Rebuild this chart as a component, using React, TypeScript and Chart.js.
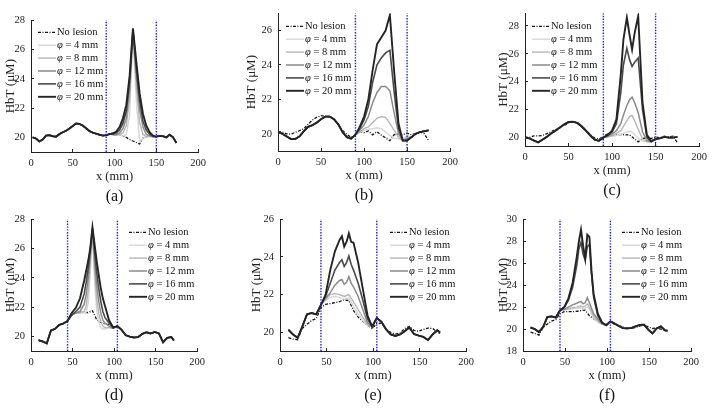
import React, { useEffect, useRef } from "react";
import { Chart, registerables } from "chart.js";

Chart.register(...registerables);

const FONT = "'Liberation Serif', 'Times New Roman', serif";

// ---------------- shared labels ----------------
const xTicks = [0, 50, 100, 150, 200];
const seriesLabels = ["No lesion", "φ = 4 mm", "φ = 8 mm", "φ = 12 mm", "φ = 16 mm", "φ = 20 mm"];
const yTitle = "HbT (μM)";
const xTitle = "x (mm)";

// ---------------- panel (a) ----------------
const aX = [2, 6, 10, 14, 18, 22, 26, 30, 34, 38, 42, 46, 50, 54, 58, 62, 66, 70, 74, 78, 82, 86,
  90, 94, 98, 102, 106, 110, 114, 118, 122, 126, 130, 134, 138, 142, 146, 150,
  154, 158, 162, 166, 170, 174];
const aNoLesion = [20.0, 19.92, 19.72, 19.85, 20.12, 20.15, 20.08, 20.05, 20.22, 20.35, 20.45, 20.6, 20.78, 20.95, 20.92, 20.8, 20.62, 20.43, 20.32, 20.25, 20.18, 20.12,
  20.15, 20.22, 20.2, 20.12, 20.18, 20.08, 20.0, 19.86, 19.75, 19.65, 19.55, 19.95, 20.04, 20.08, 20.05, 20.05,
  20.1, 20.08, 20.0, 20.18, 20.0, 19.62];
const aLeft = [20.0, 19.92, 19.72, 19.85, 20.12, 20.15, 20.08, 20.05, 20.22, 20.35, 20.45, 20.6, 20.78, 20.95, 20.92, 20.8, 20.62, 20.43, 20.32, 20.25, 20.18, 20.12];
const aRight = [20.1, 20.08, 20.0, 20.18, 20.0, 19.62];
const aIn4 = [20.15, 20.22, 20.2, 20.12, 20.18, 20.1, 20.2, 21.5, 27.2, 22.5, 19.7, 19.95, 20.04, 20.08, 20.05, 20.05];
const aIn8 = [20.15, 20.22, 20.2, 20.15, 20.2, 20.3, 20.8, 22.6, 27.3, 23.5, 21.0, 20.2, 20.05, 20.08, 20.05, 20.05];
const aIn12 = [20.15, 20.22, 20.2, 20.2, 20.3, 20.6, 21.3, 23.3, 27.35, 24.2, 21.9, 20.7, 20.2, 20.1, 20.05, 20.05];
const aIn16 = [20.15, 20.22, 20.24, 20.3, 20.5, 20.95, 21.8, 23.8, 27.4, 24.7, 22.5, 21.1, 20.5, 20.2, 20.08, 20.05];
const aIn20 = [20.15, 20.22, 20.28, 20.4, 20.7, 21.3, 22.2, 24.2, 27.45, 25.2, 23.0, 21.6, 20.8, 20.35, 20.12, 20.05];
const aPhi4 = [...aLeft, ...aIn4, ...aRight];
const aPhi8 = [...aLeft, ...aIn8, ...aRight];
const aPhi12 = [...aLeft, ...aIn12, ...aRight];
const aPhi16 = [...aLeft, ...aIn16, ...aRight];
const aPhi20 = [...aLeft, ...aIn20, ...aRight];
const aYTicks = [20, 22, 24, 26, 28];
const aMarks = [90, 150];

// ---------------- panel (b) ----------------
const bX = [0, 5, 10, 15, 20, 25, 30, 35, 40, 45, 50, 55, 60, 65, 70, 75, 80, 85,
  90, 95, 100, 105, 110, 115, 120, 125, 130, 135, 140, 145, 150,
  155, 160, 165, 170, 175];
const bNoLesion = [20.13, 20.1, 20.0, 19.98, 20.08, 20.18, 20.3, 20.55, 20.8, 20.96, 21.05, 21.02, 21.0, 20.85, 20.55, 20.2, 19.95, 19.8,
  19.94, 20.13, 20.07, 20.17, 19.94, 20.12, 19.92, 19.76, 19.6, 19.95, 19.98, 19.95, 20.04,
  19.95, 20.02, 20.1, 20.0, 19.6];
const bLeft = [20.13, 20.0, 19.85, 19.7, 19.7, 19.85, 20.15, 20.4, 20.5, 20.65, 20.85, 21.0, 21.0, 20.85, 20.55, 20.1, 19.8, 19.72];
const bRight = [19.8, 20.0, 20.1, 20.15, 20.2];
const bIn4 = [19.95, 20.1, 20.2, 20.25, 20.3, 20.35, 20.3, 20.1, 19.9, 19.75, 19.7, 19.7, 19.9];
const bIn8 = [19.95, 20.1, 20.3, 20.4, 20.65, 20.9, 21.0, 20.95, 20.6, 20.2, 19.8, 19.6, 19.8];
const bIn12 = [19.95, 20.2, 20.5, 21.0, 21.8, 22.4, 22.75, 22.75, 22.5, 21.2, 20.0, 19.6, 19.7];
const bIn16 = [19.95, 20.3, 20.8, 21.6, 23.0, 24.0, 24.4, 24.7, 24.85, 22.4, 20.3, 19.6, 19.6];
const bIn20 = [19.95, 20.4, 21.0, 22.0, 23.7, 25.2, 25.6, 26.0, 26.9, 23.6, 20.6, 19.6, 19.6];
const bPhi4 = [...bLeft, ...bIn4, ...bRight];
const bPhi8 = [...bLeft, ...bIn8, ...bRight];
const bPhi12 = [...bLeft, ...bIn12, ...bRight];
const bPhi16 = [...bLeft, ...bIn16, ...bRight];
const bPhi20 = [...bLeft, ...bIn20, ...bRight];
const bYTicks = [20, 22, 24, 26];
const bMarks = [90, 150];

// ---------------- panel (c) ----------------
const cX = [0, 5, 10, 15, 20, 25, 30, 35, 40, 45, 50, 55, 60, 65, 70, 75, 80, 85,
  90, 95, 100, 105, 110, 115, 120, 125, 130, 135, 140, 145, 150,
  155, 160, 165, 170, 175];
const cNoLesion = [20.05, 20.0, 20.12, 20.12, 20.15, 20.28, 20.42, 20.57, 20.72, 20.87, 21.05, 21.12, 21.08, 20.88, 20.52, 20.23, 19.97, 19.88,
  20.1, 20.27, 20.15, 20.2, 20.22, 20.2, 20.2, 19.95, 19.7, 19.95, 19.98, 19.95, 20.05,
  20.0, 20.1, 20.05, 20.1, 19.65];
const cXL = [0, 5, 10, 15, 20, 25, 30, 35, 40, 45, 50, 55, 60, 65, 70, 75, 80, 85,
  90, 95, 100, 105, 110, 113, 117, 120, 123, 126, 130, 135, 140, 145, 150,
  155, 160, 165, 170, 175];
const cLeft = [20.0, 19.95, 19.8, 19.66, 19.85, 20.05, 20.3, 20.5, 20.72, 20.95, 21.12, 21.14, 21.05, 20.8, 20.5, 20.15, 19.85, 19.77];
const cRight = [19.95, 20.05, 20.0, 20.0, 20.05];
const cIn4 = [20.0, 20.05, 20.1, 20.15, 20.25, 20.3, 20.4, 20.45, 20.4, 20.2, 19.95, 19.75, 19.7, 19.7, 19.9];
const cIn8 = [20.0, 20.05, 20.15, 20.3, 20.5, 20.8, 21.2, 21.5, 21.6, 21.2, 20.6, 19.9, 19.7, 19.7, 19.9];
const cIn12 = [20.0, 20.1, 20.25, 20.5, 21.0, 21.6, 22.3, 22.7, 22.9, 22.5, 21.8, 20.4, 19.8, 19.7, 19.9];
const cIn16 = [20.0, 20.15, 20.4, 21.0, 23.2, 25.2, 26.4, 25.6, 25.1, 25.4, 25.7, 22.0, 20.0, 19.7, 19.9];
const cIn20 = [20.0, 20.2, 20.5, 21.3, 24.5, 27.0, 28.6, 27.4, 26.3, 27.5, 28.7, 22.5, 20.2, 19.75, 19.9];
const cPhi4 = [...cLeft, ...cIn4, ...cRight];
const cPhi8 = [...cLeft, ...cIn8, ...cRight];
const cPhi12 = [...cLeft, ...cIn12, ...cRight];
const cPhi16 = [...cLeft, ...cIn16, ...cRight];
const cPhi20 = [...cLeft, ...cIn20, ...cRight];
const cYTicks = [20, 22, 24, 26, 28];
const cMarks = [90, 150];

// ---------------- panel (d) ----------------
const dX = [9, 14, 19, 24, 29, 34, 39,
  44, 49, 54, 59, 64, 69, 74, 79, 84, 89, 94, 99, 104,
  109, 114, 119, 124, 129, 134, 139, 144, 149, 154, 159, 164, 169, 172];
const dNoLesion = [19.74, 19.65, 19.52, 20.4, 20.52, 20.78, 20.88,
  21.05, 21.45, 21.6, 21.62, 21.62, 21.63, 21.75, 21.15, 20.95, 20.85, 20.78, 20.6, 20.7,
  20.45, 20.08, 19.98, 19.92, 19.95, 20.17, 20.28, 20.2, 20.3, 20.2, 19.6, 19.9, 19.95, 19.72];
const dXL = [9, 14, 19, 24, 29, 34, 39,
  44, 49, 54, 59, 64, 66.5, 69, 71.5, 74, 76.5, 79, 81.5, 84, 86.5, 89, 94, 99, 104,
  109, 114, 119, 124, 129, 134, 139, 144, 149, 154, 159, 164, 169, 172];
const dLeft = [19.74, 19.65, 19.52, 20.4, 20.52, 20.78, 20.88];
const dRight = [20.45, 20.08, 19.98, 19.92, 19.95, 20.17, 20.28, 20.2, 20.3, 20.2, 19.6, 19.9, 19.95, 19.72];
const dIn4 = [21.05, 21.45, 21.6, 21.62, 21.62, 21.65, 22.3, 24.5, 27.2, 23.8, 21.8, 21.0, 20.6, 20.5, 20.5, 20.6, 20.55, 20.7];
const dIn8 = [21.05, 21.45, 21.6, 21.65, 21.7, 22.1, 23.2, 25.1, 27.3, 24.5, 22.6, 21.6, 21.0, 20.7, 20.6, 20.6, 20.55, 20.7];
const dIn12 = [21.05, 21.45, 21.62, 21.7, 22.2, 22.9, 24.0, 25.6, 27.35, 25.2, 23.5, 22.4, 21.6, 21.1, 20.9, 20.7, 20.55, 20.7];
const dIn16 = [21.05, 21.45, 21.7, 22.0, 22.9, 23.7, 24.7, 26.0, 27.4, 25.8, 24.4, 23.3, 22.4, 21.7, 21.3, 20.9, 20.6, 20.7];
const dIn20 = [21.05, 21.6, 21.95, 22.6, 23.8, 24.5, 25.2, 26.1, 27.45, 26.3, 25.2, 24.2, 23.3, 22.6, 22.1, 21.1, 20.6, 20.7];
const dPhi4 = [...dLeft, ...dIn4, ...dRight];
const dPhi8 = [...dLeft, ...dIn8, ...dRight];
const dPhi12 = [...dLeft, ...dIn12, ...dRight];
const dPhi16 = [...dLeft, ...dIn16, ...dRight];
const dPhi20 = [...dLeft, ...dIn20, ...dRight];
const dYTicks = [20, 22, 24, 26, 28];
const dMarks = [44, 104];

// ---------------- panel (e) ----------------
const eX = [9, 14, 19, 24, 29, 34, 39,
  44, 49, 54, 59, 64, 69, 74, 79, 84, 89, 94, 99, 104,
  109, 114, 119, 124, 129, 134, 139, 144, 149, 154, 159, 164, 169, 172];
const eNoLesion = [19.71, 19.63, 19.6, 20.2, 20.42, 20.62, 20.73,
  21.3, 21.48, 21.52, 21.57, 21.63, 21.72, 21.68, 21.15, 20.8, 20.58, 20.37, 20.2, 20.45,
  20.48, 20.15, 19.98, 19.9, 19.95, 20.2, 20.3, 20.1, 20.05, 20.15, 20.22, 20.2, 20.0, 19.93];
const eXL = [9, 14, 19, 24, 29, 34, 39,
  44, 49, 54, 59, 64, 66.5, 69, 71.5, 74, 76.5, 79, 84, 89, 94, 99, 104,
  109, 114, 119, 124, 129, 134, 139, 144, 149, 154, 159, 164, 169, 172];
const eLeft = [20.13, 19.88, 19.7, 20.3, 20.95, 21.02, 20.95];
const eRight = [20.55, 20.15, 19.88, 19.8, 19.88, 20.05, 20.25, 19.9, 19.82, 19.75, 19.58, 19.88, 20.1, 19.98];
const eIn4 = [21.45, 21.7, 21.85, 21.9, 21.85, 21.8, 21.75, 21.8, 21.8, 21.6, 21.35, 21.0, 20.6, 20.35, 20.3, 20.75];
const eIn8 = [21.45, 21.75, 22.0, 22.05, 22.0, 21.95, 21.9, 21.95, 22.0, 21.8, 21.6, 21.2, 20.8, 20.4, 20.3, 20.75];
const eIn12 = [21.45, 21.8, 22.1, 22.5, 22.75, 22.8, 22.55, 22.65, 22.95, 22.6, 22.4, 21.9, 21.2, 20.5, 20.3, 20.75];
const eIn16 = [21.45, 21.9, 22.6, 23.3, 23.7, 23.85, 23.5, 23.7, 24.05, 23.6, 23.3, 22.6, 21.7, 20.7, 20.3, 20.75];
const eIn20 = [21.45, 22.0, 23.3, 24.3, 24.9, 25.1, 24.55, 24.8, 25.25, 24.8, 24.75, 23.7, 22.3, 20.9, 20.3, 20.75];
const ePhi4 = [...eLeft, ...eIn4, ...eRight];
const ePhi8 = [...eLeft, ...eIn8, ...eRight];
const ePhi12 = [...eLeft, ...eIn12, ...eRight];
const ePhi16 = [...eLeft, ...eIn16, ...eRight];
const ePhi20 = [...eLeft, ...eIn20, ...eRight];
const eYTicks = [20, 22, 24, 26];
const eMarks = [44, 104];

// ---------------- panel (f) ----------------
const fX = [9, 14, 19, 24, 29, 34, 39,
  44, 49, 54, 59, 64, 69, 74, 79, 84, 89, 94, 99, 104,
  109, 114, 119, 124, 129, 134, 139, 144, 149, 154, 159, 164, 169, 172];
const fNoLesion = [19.71, 19.6, 19.45, 20.15, 20.45, 20.72, 20.86,
  21.4, 21.58, 21.58, 21.58, 21.62, 21.68, 21.72, 21.2, 20.95, 20.7, 20.52, 20.42, 20.6,
  20.45, 20.32, 20.18, 20.1, 20.08, 20.15, 20.28, 20.34, 20.2, 20.05, 20.1, 20.0, 19.88, 19.85];
const fXL = [9, 14, 19, 24, 29, 34, 39,
  44, 49, 54, 59, 64, 66.5, 69, 71.5, 74, 76.5, 79, 81.5, 84, 89, 94, 99, 104,
  109, 114, 119, 124, 129, 134, 139, 144, 149, 154, 159, 164, 169, 172];
const fLeft = [20.14, 20.0, 19.72, 20.2, 21.1, 21.15, 21.05];
const fRight = [20.5, 20.28, 20.08, 20.06, 20.1, 20.25, 20.38, 20.4, 19.95, 19.6, 20.05, 20.25, 19.88, 19.85];
const fIn4 = [21.7, 21.72, 21.8, 21.85, 21.88, 21.9, 21.92, 21.85, 21.9, 22.0, 21.8, 21.4, 21.0, 20.6, 20.4, 20.35, 20.7];
const fIn8 = [21.7, 21.75, 21.85, 21.95, 22.0, 22.05, 22.1, 22.0, 22.1, 22.3, 22.0, 21.6, 21.2, 20.75, 20.45, 20.35, 20.7];
const fIn12 = [21.7, 21.8, 22.0, 22.2, 22.35, 22.45, 22.5, 22.3, 22.4, 22.85, 22.4, 21.9, 21.4, 20.9, 20.5, 20.35, 20.7];
const fIn16 = [21.7, 21.95, 22.6, 23.8, 25.8, 27.3, 27.9, 26.8, 26.3, 27.5, 27.7, 25.0, 22.9, 21.2, 20.55, 20.35, 20.7];
const fIn20 = [21.7, 22.0, 22.8, 24.2, 26.6, 28.0, 29.05, 27.6, 26.4, 28.6, 28.4, 25.3, 23.2, 21.4, 20.6, 20.35, 20.7];
const fPhi4 = [...fLeft, ...fIn4, ...fRight];
const fPhi8 = [...fLeft, ...fIn8, ...fRight];
const fPhi12 = [...fLeft, ...fIn12, ...fRight];
const fPhi16 = [...fLeft, ...fIn16, ...fRight];
const fPhi20 = [...fLeft, ...fIn20, ...fRight];
const fYTicks = [18, 20, 22, 24, 26, 28, 30];
const fMarks = [44, 104];

// ---------------- styles ----------------
const lineStyles = [
  { color: "#141414", width: 1.3, dash: [3, 1.5, 1, 1.5] },
  { color: "#d6d6d6", width: 1.4, dash: [] },
  { color: "#b6b6b6", width: 1.4, dash: [] },
  { color: "#8a8a8a", width: 1.5, dash: [] },
  { color: "#4a4a4a", width: 1.6, dash: [] },
  { color: "#242424", width: 1.9, dash: [] },
];
const markerColor = "#1c1ce6";

// panel layout (page pixels of the plot area)
const panels = [
  { tag: "(a)", L: 31, T: 13, R: 200, B: 152, yMin: 19, yMax: 28, yTicks: aYTicks, xNo: aX, no: aNoLesion, xL: aX, lesion: [aPhi4, aPhi8, aPhi12, aPhi16, aPhi20], marks: aMarks, lgX: 7, lgY: 12, gap: 20 },
  { tag: "(b)", L: 278, T: 6, R: 452, B: 151, yMin: 19, yMax: 27, yTicks: bYTicks, xNo: bX, no: bNoLesion, xL: bX, lesion: [bPhi4, bPhi8, bPhi12, bPhi16, bPhi20], marks: bMarks, lgX: 8, lgY: 13, gap: 26 },
  { tag: "(c)", L: 525, T: 6, R: 701, B: 146, yMin: 19.4, yMax: 28.9, yTicks: cYTicks, xNo: cX, no: cNoLesion, xL: cXL, lesion: [cPhi4, cPhi8, cPhi12, cPhi16, cPhi20], marks: cMarks, lgX: 7, lgY: 13, gap: 21 },
  { tag: "(d)", L: 31, T: 212, R: 199, B: 351, yMin: 19, yMax: 28, yTicks: dYTicks, xNo: dX, no: dNoLesion, xL: dXL, lesion: [dPhi4, dPhi8, dPhi12, dPhi16, dPhi20], marks: dMarks, lgX: 98, lgY: 13, gap: 20 },
  { tag: "(e)", L: 280, T: 212, R: 468, B: 351, yMin: 19, yMax: 26, yTicks: eYTicks, xNo: eX, no: eNoLesion, xL: eXL, lesion: [ePhi4, ePhi8, ePhi12, ePhi16, ePhi20], marks: eMarks, lgX: 110, lgY: 13, gap: 23 },
  { tag: "(f)", L: 523, T: 212, R: 693, B: 351, yMin: 18, yMax: 30, yTicks: fYTicks, xNo: fX, no: fNoLesion, xL: fXL, lesion: [fPhi4, fPhi8, fPhi12, fPhi16, fPhi20], marks: fMarks, lgX: 99, lgY: 13, gap: 19 },
];

const xy = (xs: number[], ys: number[]) => xs.map((x, i) => ({ x, y: ys[i] }));

const insideLegend = {
  id: "insideLegend",
  afterDraw(chart: any, _args: any, opts: any) {
    const { ctx, chartArea } = chart;
    const len = 18;
    let y = chartArea.top + opts.dy;
    const x0 = chartArea.left + opts.dx;
    ctx.save();
    chart.data.datasets.forEach((ds: any) => {
      if (ds.isMarker) return;
      ctx.strokeStyle = ds.borderColor;
      ctx.lineWidth = ds.borderWidth;
      ctx.setLineDash(ds.borderDash || []);
      ctx.beginPath();
      ctx.moveTo(x0, y);
      ctx.lineTo(x0 + len, y);
      ctx.stroke();
      ctx.setLineDash([]);
      ctx.fillStyle = "#111";
      ctx.textBaseline = "middle";
      ctx.textAlign = "left";
      let tx = x0 + len + 1;
      const label: string = ds.label;
      if (label.startsWith("φ")) {
        ctx.font = `italic 10.5px ${FONT}`;
        ctx.fillText("φ", tx, y);
        tx += ctx.measureText("φ").width;
        ctx.font = `10.5px ${FONT}`;
        ctx.fillText(label.slice(1), tx, y);
      } else {
        ctx.font = `10.5px ${FONT}`;
        ctx.fillText(label, tx, y);
      }
      y += opts.row;
    });
    ctx.restore();
  },
};

const panelTag = {
  id: "panelTag",
  afterDraw(chart: any, _args: any, opts: any) {
    const { ctx, chartArea } = chart;
    ctx.save();
    ctx.font = `16px ${FONT}`;
    ctx.fillStyle = "#111";
    ctx.textAlign = "center";
    ctx.textBaseline = "middle";
    ctx.fillText(opts.text, (chartArea.left + chartArea.right) / 2, chartArea.bottom + opts.dy);
    ctx.restore();
  },
};

Chart.register(insideLegend, panelTag);

function Panel({ p }: { p: any }) {
  const ref = useRef<HTMLCanvasElement>(null);
  const canvasLeft = Math.round(p.L - p.gap - 7.8);
  const wy = p.L - canvasLeft;
  const canvasTop = p.T - 8;
  const padTop = 8;
  const padRight = 14;
  const hx = 56;
  const width = wy + (p.R - p.L) + padRight;
  const height = padTop + (p.B - p.T) + hx;

  useEffect(() => {
    const datasets: any[] = [];
    datasets.push({
      label: seriesLabels[0], data: xy(p.xNo, p.no),
      borderColor: lineStyles[0].color, borderWidth: lineStyles[0].width, borderDash: lineStyles[0].dash,
      pointRadius: 0, tension: 0, fill: false, order: 10,
    });
    p.lesion.forEach((ys: number[], k: number) => {
      const s = lineStyles[k + 1];
      datasets.push({
        label: seriesLabels[k + 1], data: xy(p.xL, ys),
        borderColor: s.color, borderWidth: s.width, borderDash: s.dash,
        pointRadius: 0, tension: 0, fill: false, order: 5 - k,
      });
    });
    p.marks.forEach((m: number) => {
      datasets.push({
        label: "", isMarker: true, data: [{ x: m, y: p.yMin }, { x: m, y: p.yMax }],
        borderColor: markerColor, borderWidth: 1.4, borderDash: [1.4, 1.4],
        pointRadius: 0, fill: false, order: -1,
      });
    });

    const tickFont = { family: FONT, size: 10.5 };
    const chart = new Chart(ref.current as HTMLCanvasElement, {
      type: "line",
      data: { datasets },
      options: {
        animation: false,
        responsive: false,
        devicePixelRatio: 1,
        layout: { padding: { top: padTop, right: padRight, bottom: 0, left: 0 } },
        plugins: {
          legend: { display: false },
          tooltip: { enabled: false },
          insideLegend: { dx: p.lgX, dy: p.lgY, row: 12.9 },
          panelTag: { text: p.tag, dy: 45 },
        } as any,
        scales: {
          x: {
            type: "linear", min: 0, max: 200,
            afterBuildTicks: (s: any) => { s.ticks = xTicks.map((v) => ({ value: v })); },
            afterFit: (s: any) => { s.height = hx; },
            grid: { display: true, drawOnChartArea: false, drawTicks: true, tickLength: -3, color: "#222" },
            border: { display: true, color: "#222", width: 1 },
            ticks: { font: tickFont, color: "#222", padding: 8, maxRotation: 0 },
            title: { display: true, text: xTitle, font: { family: FONT, size: 12.5 }, color: "#222", padding: { top: 0, bottom: hx - 25 - 7.5 } },
          },
          y: {
            type: "linear", min: p.yMin, max: p.yMax,
            afterBuildTicks: (s: any) => { s.ticks = p.yTicks.map((v: number) => ({ value: v })); },
            afterFit: (s: any) => { s.width = wy; },
            grid: { display: true, drawOnChartArea: false, drawTicks: true, tickLength: -3, color: "#222" },
            border: { display: true, color: "#222", width: 1 },
            ticks: { font: tickFont, color: "#222", padding: 9 },
            title: { display: true, text: yTitle, font: { family: FONT, size: 13 }, color: "#222", padding: { top: 0, bottom: 0 } },
          },
        },
      } as any,
    });
    return () => chart.destroy();
  }, []);

  return (
    <canvas
      ref={ref}
      width={width}
      height={height}
      style={{ position: "absolute", left: canvasLeft, top: canvasTop, width, height }}
    />
  );
}

export default function App() {
  return (
    <div style={{ position: "fixed", left: 0, top: 0, width: 714, height: 410, background: "#fff", overflow: "hidden" }}>
      {panels.map((p) => (
        <Panel key={p.tag} p={p} />
      ))}
    </div>
  );
}
